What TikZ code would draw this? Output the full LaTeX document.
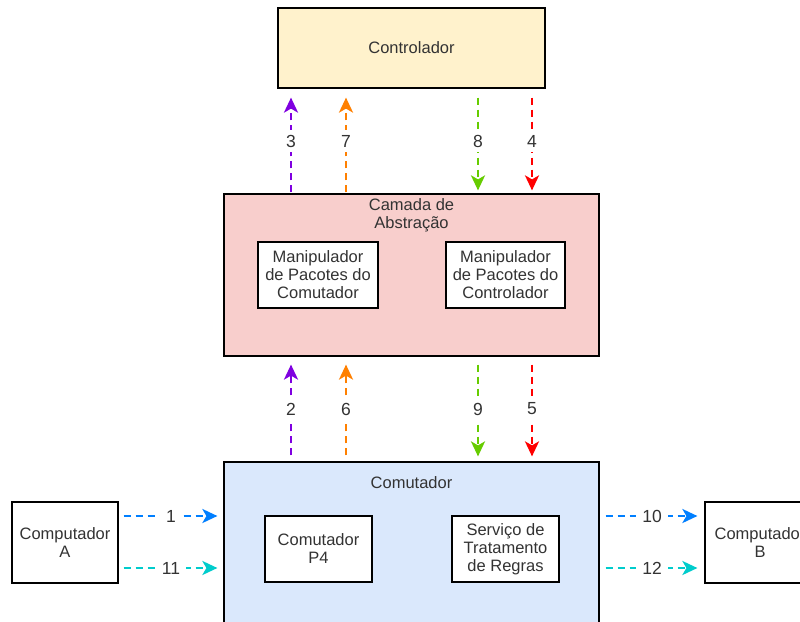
\documentclass[tikz,border=0pt]{standalone}
\usepackage{fontspec}
\setmainfont{Liberation Sans}
\usetikzlibrary{arrows.meta}
\definecolor{cyel}{HTML}{FFF2CC}
\definecolor{cred}{HTML}{F8CECC}
\definecolor{cblu}{HTML}{DAE8FC}
\definecolor{apur}{HTML}{7F00E0}
\definecolor{aora}{HTML}{FF8000}
\definecolor{agrn}{HTML}{66CC00}
\definecolor{ared}{HTML}{FF0000}
\definecolor{ablu}{HTML}{007FFF}
\definecolor{acya}{HTML}{00CCCC}
\definecolor{txt}{HTML}{333333}
\tikzset{
  box/.style={draw=black, line width=1.2pt, text=txt, align=center, inner sep=0pt,
    font=\fontsize{16.5}{18}\selectfont},
  ttl/.style={text=txt, align=center, inner sep=0pt, font=\fontsize{16.5}{17.5}\selectfont},
  conn/.style={line width=2.5pt, dash pattern=on 7pt off 5pt,
    -{Stealth[length=15pt,width=14pt,inset=4pt]}},
  lbl/.style={fill=white, text=txt, inner xsep=6pt, inner ysep=5pt, font=\fontsize{17.5}{18}\selectfont}
}
\begin{document}
\begin{tikzpicture}[x=1pt,y=-1pt]
\clip (0,0) rectangle (800,621);
\fill[white] (0,0) rectangle (800,621);
% main boxes
\node[box, fill=cyel, minimum width=267pt, minimum height=80pt] (ctrl) at (411.5,48) {Controlador};
\node[box, fill=cred, minimum width=375pt, minimum height=162pt] (cam) at (411.5,275) {};
\node[ttl] (camt) at (411.5,215.5) {Camada de\\Abstração};
\node[box, fill=white, minimum width=120pt, minimum height=66pt] (mpc) at (318,275) {Manipulador\\de Pacotes do\\Comutador};
\node[box, fill=white, minimum width=119pt, minimum height=66pt] (mpk) at (505.5,275) {Manipulador\\de Pacotes do\\Controlador};
\node[box, fill=cblu, minimum width=375pt, minimum height=180pt] (com) at (411.5,552) {};
\node[ttl] (comt) at (411.5,483) {Comutador};
\node[box, fill=white, minimum width=107pt, minimum height=66pt] (p4) at (318.5,549) {Comutador\\P4};
\node[box, fill=white, minimum width=107pt, minimum height=66pt] (srv) at (505.5,549) {Serviço de\\Tratamento\\de Regras};
\node[box, fill=white, minimum width=106pt, minimum height=81pt] (ca) at (65,542.5) {Computador\\A};
\node[box, fill=white, minimum width=110pt, minimum height=81pt] (cb) at (760,542.5) {Computador\\B};
% x positions
\coordinate (xp) at (291,0);
\coordinate (xo) at (346,0);
\coordinate (xg) at (478,0);
\coordinate (xr) at (532,0);
\coordinate (yu) at (0,516);
\coordinate (yl) at (0,568);
% upper arrows
\draw[conn, apur, shorten <=1pt, shorten >=9pt] (cam.north -| xp) -- node[lbl]{3} (ctrl.south -| xp);
\draw[conn, aora, shorten <=1pt, shorten >=9pt] (cam.north -| xo) -- node[lbl]{7} (ctrl.south -| xo);
\draw[conn, agrn, shorten <=9pt, shorten >=3pt] (ctrl.south -| xg) -- node[lbl]{8} (cam.north -| xg);
\draw[conn, ared, shorten <=9pt, shorten >=3pt] (ctrl.south -| xr) -- node[lbl]{4} (cam.north -| xr);
% lower arrows
\draw[conn, apur, shorten <=6pt, shorten >=8pt] (com.north -| xp) -- node[lbl]{2} (cam.south -| xp);
\draw[conn, aora, shorten <=6pt, shorten >=8pt] (com.north -| xo) -- node[lbl]{6} (cam.south -| xo);
\draw[conn, agrn, shorten <=8pt, shorten >=5pt] (cam.south -| xg) -- node[lbl]{9} (com.north -| xg);
\draw[conn, ared, shorten <=8pt, shorten >=5pt] (cam.south -| xr) -- node[lbl]{5} (com.north -| xr);
% horizontal arrows
\draw[conn, ablu, shorten <=5pt, shorten >=6pt] (ca.east |- yu) -- node[lbl]{1} (com.west |- yu);
\draw[conn, acya, shorten <=5pt, shorten >=6pt] (ca.east |- yl) -- node[lbl]{11} (com.west |- yl);
\draw[conn, ablu, shorten <=6pt, shorten >=7pt] (com.east |- yu) -- node[lbl]{10} (cb.west |- yu);
\draw[conn, acya, shorten <=6pt, shorten >=7pt] (com.east |- yl) -- node[lbl]{12} (cb.west |- yl);
\end{tikzpicture}
\end{document}
